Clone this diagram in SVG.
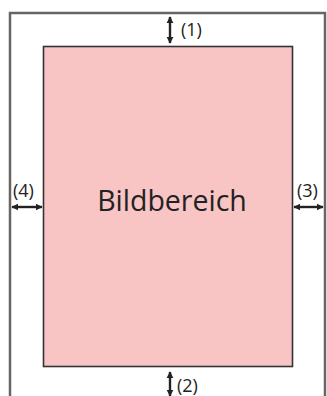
<svg xmlns="http://www.w3.org/2000/svg" width="327" height="396" viewBox="0 0 327 396">
<style>
.lbl{font-family:"Open Sans","DejaVu Sans",sans-serif;font-size:18px;fill:#222}
.dim{stroke:#222;stroke-width:2.4;fill:none;marker-start:url(#ah);marker-end:url(#ah)}
</style>
<defs>
<marker id="ah" viewBox="0 0 10 10" refX="9" refY="5" markerWidth="2.8" markerHeight="3" orient="auto-start-reverse" markerUnits="strokeWidth">
<path d="M0,0 L10,5 L0,10 Z" fill="#222"/>
</marker>
</defs>
<rect width="327" height="396" fill="#fff"/>
<g id="page">
<path d="M10,400 V13 H325 V400" fill="none" stroke="#666" stroke-width="2.5"/>
</g>
<g id="image-area">
<rect x="43.5" y="46.5" width="249" height="320" fill="#f8c4c4" stroke="#333" stroke-width="1.6"/>
<text x="172" y="211" text-anchor="middle" font-family="'Open Sans','DejaVu Sans',sans-serif" font-size="28.5" fill="#222">Bildbereich</text>
</g>
<g id="connectors">
<line class="dim" x1="170" y1="17" x2="170" y2="43"/>
<line class="dim" x1="170" y1="372" x2="170" y2="396"/>
<line class="dim" x1="12" y1="207" x2="42" y2="207"/>
<line class="dim" x1="294" y1="207" x2="323" y2="207"/>
</g>
<g id="labels">
<text class="lbl" x="181" y="36">(1)</text>
<text class="lbl" x="177" y="392">(2)</text>
<text class="lbl" x="297" y="197">(3)</text>
<text class="lbl" x="13" y="197">(4)</text>
</g>
</svg>
